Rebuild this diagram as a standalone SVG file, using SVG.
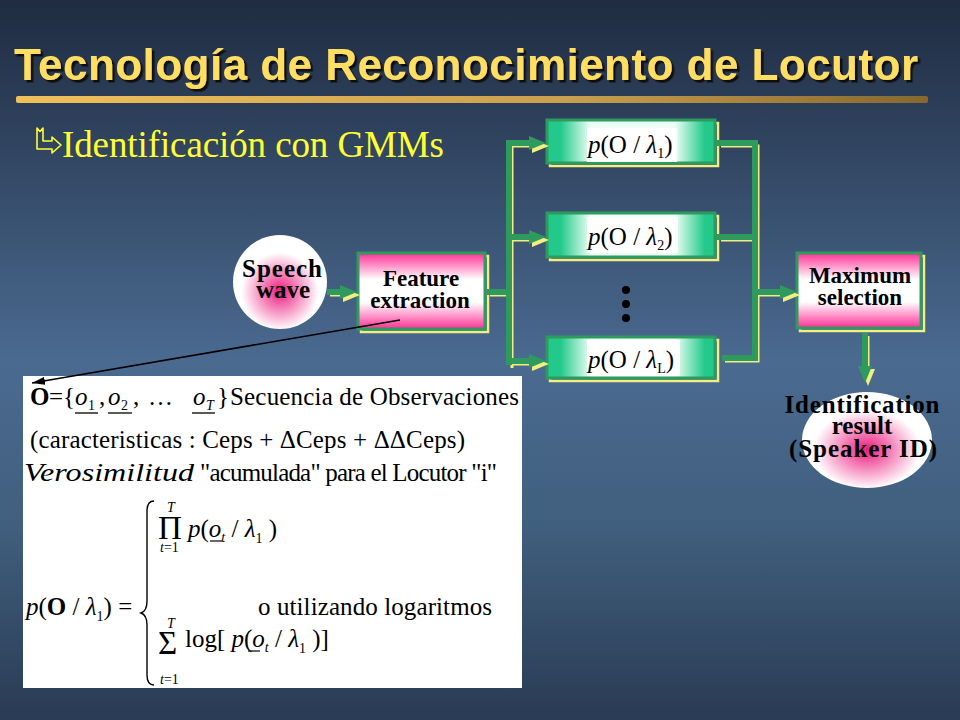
<svg xmlns="http://www.w3.org/2000/svg" width="960" height="720" viewBox="0 0 960 720">
<defs>
  <linearGradient id="bg" x1="0" y1="0" x2="0" y2="1">
    <stop offset="0" stop-color="#1f2c41"/>
    <stop offset="0.15" stop-color="#2c3e58"/>
    <stop offset="0.5" stop-color="#4a6a90"/>
    <stop offset="0.72" stop-color="#41607f"/>
    <stop offset="1" stop-color="#2a3b54"/>
  </linearGradient>
  <linearGradient id="bar" x1="0" y1="0" x2="1" y2="0">
    <stop offset="0" stop-color="#f0c05a"/>
    <stop offset="0.6" stop-color="#c9a050"/>
    <stop offset="1" stop-color="#86682f"/>
  </linearGradient>
  <linearGradient id="pinkbox" x1="0" y1="0" x2="0" y2="1">
    <stop offset="0" stop-color="#ff2f95"/>
    <stop offset="0.35" stop-color="#ffffff"/>
    <stop offset="0.65" stop-color="#ffffff"/>
    <stop offset="1" stop-color="#ff2f95"/>
  </linearGradient>
  <linearGradient id="greenbox" x1="0" y1="0" x2="1" y2="0">
    <stop offset="0" stop-color="#22c98a"/>
    <stop offset="0.08" stop-color="#22c98a"/>
    <stop offset="0.26" stop-color="#eefff7"/>
    <stop offset="0.76" stop-color="#eefff7"/>
    <stop offset="0.94" stop-color="#22c98a"/>
    <stop offset="1" stop-color="#22c98a"/>
  </linearGradient>
  <radialGradient id="pinkball" cx="0.5" cy="0.6" r="0.55">
    <stop offset="0" stop-color="#ec1c7e"/>
    <stop offset="0.75" stop-color="#ffffff"/>
    <stop offset="1" stop-color="#ffffff"/>
  </radialGradient>
  <filter id="ds" x="-5%" y="-20%" width="110%" height="150%">
    <feDropShadow dx="2.5" dy="2.5" stdDeviation="0.7" flood-color="#111111" flood-opacity="1"/>
  </filter>
  <marker id="ahG" viewBox="0 0 17 14" refX="0" refY="7" markerWidth="17" markerHeight="14" markerUnits="userSpaceOnUse" orient="auto">
    <path d="M0,0 L17,7 L0,14 Z" fill="#2e9a5e"/>
  </marker>
  <marker id="ahY" viewBox="0 0 17 14" refX="0" refY="7" markerWidth="17" markerHeight="14" markerUnits="userSpaceOnUse" orient="auto">
    <path d="M0,0 L17,7 L0,14 Z" fill="#f2ee82"/>
  </marker>
  <marker id="ahK" viewBox="0 0 13 8" refX="13" refY="4" markerWidth="13" markerHeight="8" markerUnits="userSpaceOnUse" orient="auto">
    <path d="M0,0 L13,4 L0,8 Z" fill="#000"/>
  </marker>
  <style>
    .serif{font-family:"Liberation Serif","Times New Roman",serif;}
    .nodeT{font-family:"Liberation Serif","Times New Roman",serif;font-weight:bold;fill:#000;text-anchor:middle;}
    .frame{stroke:#2e9a5e;stroke-width:3;}
    .shadow{fill:none;stroke:#f2ee82;stroke-width:2.5;}
    .gline{fill:none;stroke:#2e9a5e;stroke-width:6;}
    .yline{fill:none;stroke:#f2ee82;stroke-width:3;}
    .f{font-family:"Liberation Serif","Times New Roman",serif;fill:#000;}
    .it{font-style:italic;}
    .b{font-weight:bold;}
    .sub{font-size:14px;}
    .big{font-size:33px;}
  </style>
</defs>

<rect x="0" y="0" width="960" height="720" fill="url(#bg)"/>

<g id="title">
  <text x="14" y="80" font-family="Liberation Sans, Arial, sans-serif" font-weight="bold" font-size="44" textLength="904" lengthAdjust="spacing" fill="#ffde62" filter="url(#ds)">Tecnología de Reconocimiento de Locutor</text>
  <rect x="16" y="96" width="912" height="7" rx="2" fill="url(#bar)"/>
</g>

<g id="subtitle">
  <path d="M37,128 L40,131.5 L43,128 L43,141 L52,141 L52,137 L61,145 L52,153 L52,149 L37,149 Z" fill="none" stroke="#ffff33" stroke-width="1.6" stroke-linejoin="round"/>
  <text x="62" y="157" class="serif" font-size="37" fill="#ffff33" textLength="382" lengthAdjust="spacing">Identificación  con GMMs</text>
</g>

<g id="speech">
  <circle cx="280" cy="282" r="47" fill="url(#pinkball)"/>
  <text class="nodeT" font-size="25"><tspan x="282" y="277" textLength="80" lengthAdjust="spacing">Speech</tspan><tspan x="283" y="298">wave</tspan></text>
</g>

<g id="feature">
  <rect x="361" y="256" width="127" height="76" class="shadow"/>
  <rect x="358" y="253" width="127" height="76" fill="url(#pinkbox)" class="frame"/>
  <text class="nodeT" font-size="23"><tspan x="421" y="286">Feature</tspan><tspan x="420" y="308">extraction</tspan></text>
</g>

<g id="gmm1">
  <rect x="550" y="123" width="168" height="43" class="shadow"/>
  <rect x="547" y="120" width="168" height="43" fill="url(#greenbox)" class="frame"/>
  <rect x="587" y="128" width="90" height="34" fill="#fff"/>
  <text class="f" font-size="25" x="588" y="153"><tspan class="it">p</tspan>(O / <tspan class="it">λ</tspan><tspan class="sub" dy="5">1</tspan><tspan dy="-5">)</tspan></text>
</g>

<g id="gmm2">
  <rect x="550" y="216" width="168" height="44" class="shadow"/>
  <rect x="547" y="213" width="168" height="44" fill="url(#greenbox)" class="frame"/>
  <rect x="587" y="217" width="91" height="36" fill="#fff"/>
  <text class="f" font-size="25" x="588" y="245"><tspan class="it">p</tspan>(O / <tspan class="it">λ</tspan><tspan class="sub" dy="5">2</tspan><tspan dy="-5">)</tspan></text>
</g>

<g id="dots">
  <circle cx="626" cy="290" r="4" fill="#000"/>
  <circle cx="626" cy="304" r="4" fill="#000"/>
  <circle cx="626" cy="318" r="4" fill="#000"/>
</g>

<g id="gmmL">
  <rect x="550" y="340" width="168" height="41" class="shadow"/>
  <rect x="547" y="337" width="168" height="41" fill="url(#greenbox)" class="frame"/>
  <rect x="587" y="340" width="93" height="36" fill="#fff"/>
  <text class="f" font-size="25" x="588" y="368"><tspan class="it">p</tspan>(O / <tspan class="it">λ</tspan><tspan class="sub" dy="5">L</tspan><tspan dy="-5">)</tspan></text>
</g>

<g id="maxsel">
  <rect x="800" y="256" width="124" height="75" class="shadow"/>
  <rect x="797" y="253" width="124" height="75" fill="url(#pinkbox)" class="frame"/>
  <text class="nodeT" font-size="23"><tspan x="860" y="283">Maximum</tspan><tspan x="860" y="305">selection</tspan></text>
</g>

<g id="result">
  <ellipse cx="867" cy="440" rx="65" ry="48" fill="url(#pinkball)"/>
  <text class="nodeT" font-size="25"><tspan x="862" y="413" textLength="155" lengthAdjust="spacing">Identification</tspan><tspan x="862" y="434">result</tspan><tspan x="863" y="457" textLength="148" lengthAdjust="spacing">(Speaker ID)</tspan></text>
</g>

<g id="formula">
  <rect x="23" y="376" width="499" height="312" fill="#fff"/>
  <!-- line 1 -->
  <text class="f" font-size="25" y="405"><tspan x="30" class="b">O</tspan><tspan x="49">=</tspan><tspan x="63">{</tspan><tspan x="75" class="it">o</tspan><tspan x="88" dy="5" class="sub">1</tspan><tspan x="99" dy="-5">,</tspan><tspan x="108" class="it">o</tspan><tspan x="121" dy="5" class="sub">2</tspan><tspan x="133" dy="-5">,</tspan><tspan x="148">…</tspan><tspan x="193" class="it">o</tspan><tspan x="206" dy="5" class="sub it">T</tspan><tspan x="217" dy="-5">}</tspan><tspan x="230" textLength="289" lengthAdjust="spacing">Secuencia de Observaciones</tspan></text>
  <g stroke="#000" stroke-width="1.3">
    <line x1="75" y1="413" x2="98" y2="413"/>
    <line x1="108" y1="413" x2="132" y2="413"/>
    <line x1="192" y1="413" x2="215" y2="413"/>
  </g>
  <!-- line 2 -->
  <text class="f" font-size="25" x="30" y="448" textLength="435" lengthAdjust="spacing">(caracteristicas : Ceps + ΔCeps + ΔΔCeps)</text>
  <!-- line 3 -->
  <text class="f" font-size="25" y="481"><tspan x="24" class="it" textLength="170" lengthAdjust="spacingAndGlyphs">Verosimilitud</tspan><tspan x="200" textLength="297" lengthAdjust="spacing">"acumulada" para el Locutor "i"</tspan></text>
  <!-- p(O/λ1) = -->
  <text class="f" font-size="25" x="26" y="615"><tspan class="it">p</tspan>(<tspan class="b">O</tspan> / <tspan class="it">λ</tspan><tspan class="sub" dy="6">1</tspan><tspan dy="-6">) =</tspan></text>
  <path d="M154,501 Q147,501 147,511 L147,601 Q147,611 141,613 Q147,615 147,625 L147,675 Q147,685 154,685" fill="none" stroke="#000" stroke-width="1.4"/>
  <!-- product -->
  <text class="f"><tspan class="sub it" x="167" y="512">T</tspan><tspan class="big" x="158" y="539">Π</tspan><tspan class="sub" x="160" y="552"><tspan class="it">t</tspan>=1</tspan></text>
  <text class="f" font-size="25" x="188" y="537"><tspan class="it">p</tspan>(<tspan class="it">o</tspan><tspan class="sub it" dy="5">t</tspan><tspan dy="-5">  / </tspan><tspan class="it">λ</tspan><tspan class="sub" dy="6">1</tspan><tspan dy="-6"> )</tspan></text>
  <line x1="210" y1="541" x2="222" y2="541" stroke="#000" stroke-width="1.2"/>
  <text class="f" font-size="25" x="258" y="615" textLength="234" lengthAdjust="spacing">o utilizando logaritmos</text>
  <!-- sum -->
  <text class="f"><tspan class="sub it" x="167" y="628">T</tspan><tspan class="big" x="158" y="654">Σ</tspan><tspan class="sub" x="160" y="684"><tspan class="it">t</tspan>=1</tspan></text>
  <text class="f" font-size="25" x="185" y="647">log[ <tspan class="it">p</tspan>(<tspan class="it">o</tspan><tspan class="sub it" dy="5">t</tspan><tspan dy="-5">  / </tspan><tspan class="it">λ</tspan><tspan class="sub" dy="6">1</tspan><tspan dy="-6"> )]</tspan></text>
  <line x1="248" y1="651" x2="260" y2="651" stroke="#000" stroke-width="1.2"/>
</g>

<g id="connectors">
  <g transform="translate(3,3)" class="yline">
    <path d="M327,292 H340" marker-end="url(#ahY)"/>
    <path d="M487,292 H509"/>
    <path d="M509,143 V365"/>
    <path d="M509,143 H529" marker-end="url(#ahY)"/>
    <path d="M509,237 H529" marker-end="url(#ahY)"/>
    <path d="M509,361 H529" marker-end="url(#ahY)"/>
    <path d="M718,143 H755 V358 H722"/>
    <path d="M718,237 H755"/>
    <path d="M755,292 H780" marker-end="url(#ahY)"/>
    <path d="M865,333 V366" marker-end="url(#ahY)"/>
  </g>
  <g class="gline">
    <path d="M327,292 H340" marker-end="url(#ahG)"/>
    <path d="M487,292 H509"/>
    <path d="M509,140 V365"/>
    <path d="M506,143 H529" marker-end="url(#ahG)"/>
    <path d="M509,237 H529" marker-end="url(#ahG)"/>
    <path d="M509,361 H529" marker-end="url(#ahG)"/>
    <path d="M716,143 H755 V358 H722"/>
    <path d="M716,237 H755"/>
    <path d="M755,292 H780" marker-end="url(#ahG)"/>
    <path d="M865,333 V366" marker-end="url(#ahG)"/>
  </g>
  <line x1="400" y1="320" x2="32" y2="383" stroke="#000" stroke-width="1.6" marker-end="url(#ahK)"/>
</g>
</svg>
